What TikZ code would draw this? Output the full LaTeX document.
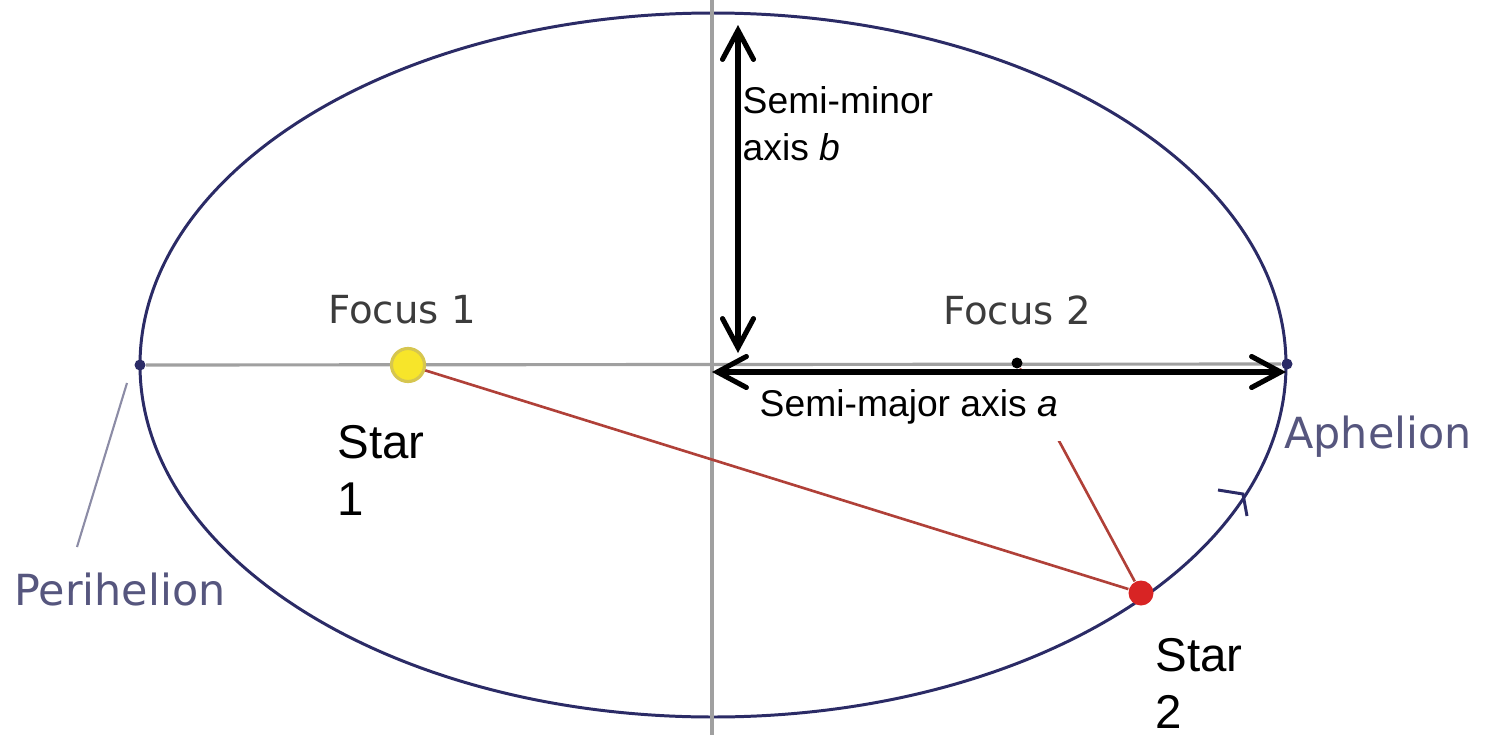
\documentclass[tikz,border=0pt]{standalone}
\usepackage{fontspec}
\setmainfont{Liberation Sans}
\newfontfamily\tagfont{DejaVu Sans}
\usetikzlibrary{arrows.meta, positioning}
\definecolor{orbitnavy}{HTML}{2B2B66}
\definecolor{axisgrey}{HTML}{A0A0A0}
\definecolor{chordred}{HTML}{B04038}
\definecolor{starred}{HTML}{D82424}
\definecolor{staryellow}{HTML}{F7E52A}
\definecolor{staryellowdark}{HTML}{D6C650}
\definecolor{labelgrey}{HTML}{3C3C3C}
\definecolor{labelblue}{HTML}{56567E}
\definecolor{pointergrey}{HTML}{8C8CA6}

\begin{document}
\begin{tikzpicture}[x=0.1mm, y=-0.1mm,
  orbitline/.style={draw=orbitnavy, line width=0.85pt},
  axisline/.style={draw=axisgrey, line width=0.9pt},
  chord/.style={draw=chordred, line width=0.75pt},
  bigarrow/.style={draw=black, line width=1.45pt, line cap=round,
    {Straight Barb[length=2.9mm, width=3.1mm, line cap=round]}-{Straight Barb[length=2.9mm, width=3.1mm, line cap=round]}},
  apsis/.style={circle, fill=orbitnavy, inner sep=0pt, minimum size=1.1mm},
  oldtag/.style={font=\tagfont\fontsize{11}{13}\selectfont, text=labelgrey},
  apsistag/.style={font=\tagfont\fontsize{12.2}{14}\selectfont, text=labelblue},
  axistag/.style={font=\fontsize{10.6}{13.4}\selectfont, align=left, fill=white, inner sep=2pt},
  startag/.style={font=\fontsize{13.5}{16.2}\selectfont, align=left, fill=white, inner sep=2pt}]
  % page is 1487 x 735 px, 1px = 0.1mm, y grows downwards
  \useasboundingbox (0,0) rectangle (1487,735);

  % orbit and the two axes
  \coordinate (ctr) at (713,365);
  \draw[orbitline] (ctr) ellipse [x radius=573, y radius=352];
  \coordinate (vtop) at (712,0);
  \coordinate (vbot) at (712,735);
  \draw[axisline] (vtop) -- (vbot);
  \node[apsis] (peri) at (140,365) {};
  \node[apsis] (aph) at (1287,364) {};
  \draw[axisline] (peri) -- (aph);

  % foci and the second star
  \node[circle, fill=staryellow, draw=staryellowdark, line width=0.9pt,
        inner sep=0pt, minimum size=3.3mm] (foc1) at (408,365) {};
  \node[circle, fill=black, inner sep=0pt, minimum size=1.1mm] (foc2) at (1017,363) {};
  \node[circle, fill=starred, inner sep=0pt, minimum size=2.5mm] (star2) at (1141,593) {};
  \draw[chord] (foc1) -- (star2);
  \draw[chord] (foc2) -- (star2);

  % direction of motion
  \draw[orbitline] (1218,490) -- (1243,494) -- (1247,516);

  % old labels
  \node[oldtag] (foctag1) at (402,310) {Focus 1};
  \node[oldtag] (foctag2) at (1017,310) {Focus 2};
  \node[apsistag] (peritag) at (120,590) {Perihelion};
  \node[apsistag] (aphtag) at (1378,437) {Aphelion};
  \coordinate (ptrend) at (77,547);
  \draw[draw=pointergrey, line width=0.6pt] (peri) ++(-13,18) -- (ptrend);

  % axis labels and arrows
  \node[axistag, anchor=west] (minortag) at (735,124) {Semi-minor\\axis \textit{b}};
  \node[axistag, anchor=west, minimum height=6.7mm] (majortag) at (752,407) {Semi-major axis \textit{a}};
  \coordinate (mintop) at (738,25);
  \coordinate (minbot) at (738,353);
  \coordinate (majleft) at (712,372);
  \coordinate (majright) at (1286,372);
  \draw[bigarrow] (minbot) -- (mintop);
  \draw[bigarrow] (majleft) -- (majright);

  % star labels
  \node[startag, anchor=west] (startag1) at (330,470) {Star\\1};
  \node[startag, anchor=west] (startag2) at (1148,683) {Star\\2};
\end{tikzpicture}
\end{document}
